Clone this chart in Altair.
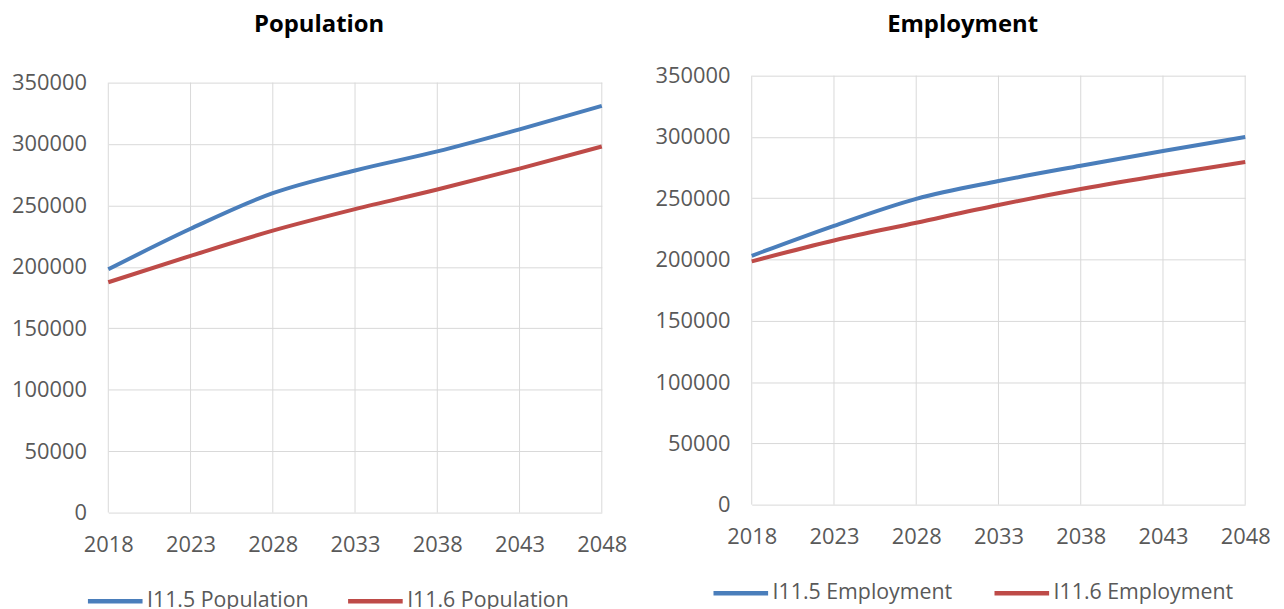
import altair as alt
import pandas as pd

years = [2018, 2023, 2028, 2033, 2038, 2043, 2048]
pop_series = ["I11.5 Population", "I11.6 Population"]
pop_i115 = [198000, 231000, 260000, 278500, 294000, 312000, 331000]
pop_i116 = [187500, 209000, 229500, 247000, 263000, 280000, 298000]
emp_series = ["I11.5 Employment", "I11.6 Employment"]
emp_i115 = [203000, 227500, 249500, 264000, 276500, 288500, 300000]
emp_i116 = [198500, 215500, 230000, 244500, 257500, 269000, 279500]
y_ticks = [0, 50000, 100000, 150000, 200000, 250000, 300000, 350000]
colors = ["#4A7EBB", "#BE4B48"]

FONT = "Open Sans"
LABEL_COLOR = "#595959"
GRID = "#D9D9D9"


def long_df(series, a, b):
    rows = []
    for y, v in zip(years, a):
        rows.append({"year": y, "value": v, "series": series[0]})
    for y, v in zip(years, b):
        rows.append({"year": y, "value": v, "series": series[1]})
    return pd.DataFrame(rows)


def panel(title, series, a, b, h, yrange, toff, lx, ly, colpad):
    df = long_df(series, a, b)
    xs = alt.Scale(domain=[2018, 2048], nice=False, zero=False)
    ys = alt.Scale(domain=[0, 350000], nice=False, range=yrange)
    grid = alt.Chart(pd.DataFrame({"year": years})).mark_rule(color=GRID, strokeWidth=1).encode(
        x=alt.X("year:Q", scale=xs,
                axis=alt.Axis(values=years, format="d", title=None, grid=False,
                              domain=False, ticks=False,
                              labelPadding=22, labelFontSize=22, labelFont=FONT,
                              labelColor=LABEL_COLOR, labelFlush=False)),
        y=alt.datum(0, scale=ys),
        y2=alt.datum(350000),
    )
    lines = alt.Chart(df).mark_line(strokeWidth=4, interpolate="monotone").encode(
        x=alt.X("year:Q", scale=xs),
        y=alt.Y("value:Q", scale=ys,
                axis=alt.Axis(values=y_ticks, format="d", title=None, grid=True,
                              gridColor=GRID, domain=False, ticks=False,
                              labelPadding=22, labelFontSize=22, labelFont=FONT,
                              labelColor=LABEL_COLOR)),
        color=alt.Color("series:N", scale=alt.Scale(domain=series, range=colors),
                        legend=alt.Legend(title=None, orient="none", direction="horizontal",
                                          legendX=lx, legendY=ly, symbolType="stroke",
                                          symbolSize=3025, symbolStrokeWidth=4.5,
                                          labelFontSize=21.5, labelFont=FONT, labelLimit=0,
                                          labelColor=LABEL_COLOR, labelOffset=2,
                                          columnPadding=colpad)),
    )
    return alt.layer(grid, lines).properties(
        width=497, height=h,
        title=alt.TitleParams(title, fontSize=24, font=FONT, fontWeight="bold",
                              color="#000000", anchor="middle", frame="bounds", offset=toff),
    )


left = panel("Population", pop_series, pop_i115, pop_i116, 440, [440, 7], 35, -23, 499, 30)
right = panel("Employment", emp_series, emp_i115, emp_i116, 432, [432, 0], 28, -41, 491, 32)

chart = alt.hconcat(left, right, spacing=27).resolve_scale(color="independent").resolve_legend(
    color="independent").configure_view(strokeWidth=0).properties(
    padding={"left": 3, "top": 3, "right": 5, "bottom": 0})

chart.save("out.html", embed_options={"renderer": "svg", "actions": False})
